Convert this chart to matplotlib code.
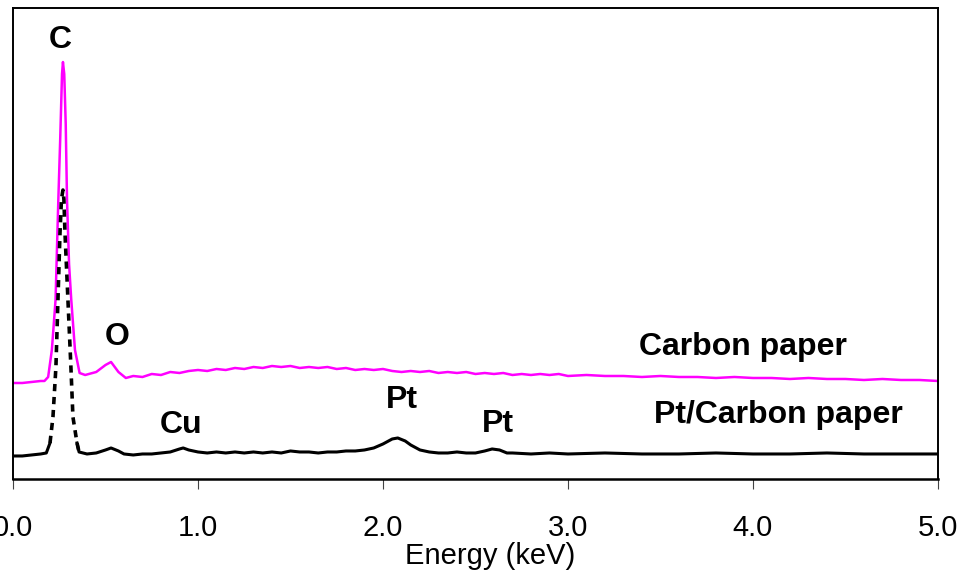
import numpy as np
import matplotlib.pyplot as plt

plt.rcParams['font.family'] = ['Liberation Sans', 'DejaVu Sans']

# Carbon paper spectrum (energy keV, counts a.u.)
cp_energy = [0.00, 0.05, 0.10, 0.15, 0.17, 0.19, 0.21, 0.23, 0.245, 0.255, 0.265, 0.27,
             0.277, 0.285, 0.292, 0.303, 0.315, 0.335, 0.36, 0.39, 0.45, 0.50, 0.53, 0.57,
             0.61, 0.65, 0.70, 0.75, 0.80, 0.85, 0.90, 0.95, 1.00, 1.05, 1.10, 1.15, 1.20,
             1.25, 1.30, 1.35, 1.40, 1.45, 1.50, 1.55, 1.60, 1.65, 1.70, 1.75, 1.80, 1.85,
             1.90, 1.95, 2.00, 2.05, 2.10, 2.15, 2.20, 2.25, 2.30, 2.35, 2.40, 2.45, 2.50,
             2.55, 2.60, 2.65, 2.70, 2.75, 2.80, 2.85, 2.90, 2.95, 3.00, 3.10, 3.20, 3.30,
             3.40, 3.50, 3.60, 3.70, 3.80, 3.90, 4.00, 4.10, 4.20, 4.30, 4.40, 4.50, 4.60,
             4.70, 4.80, 4.90, 5.00]
cp_counts = [101, 101, 102, 103, 103, 107, 134, 184, 284, 344, 410, 422,
             410, 360, 284, 220, 184, 134, 111, 109, 112, 119, 122, 112,
             106, 108, 107, 110, 109, 112, 111, 113, 114, 113, 115, 114, 116,
             115, 117, 116, 118, 117, 118, 116, 117, 116, 117, 115, 116, 114,
             115, 114, 115, 113, 112, 113, 112, 113, 111, 112, 111, 112, 110,
             111, 110, 111, 109, 110, 109, 110, 109, 110, 108, 109, 108, 108,
             107, 108, 107, 107, 106, 107, 106, 106, 105, 106, 105, 105, 104,
             105, 104, 104, 103]

# Pt/Carbon paper spectrum
pt_energy = [0.00, 0.05, 0.10, 0.15, 0.18, 0.20, 0.216, 0.232, 0.243, 0.254, 0.262, 0.27,
             0.275, 0.281, 0.297, 0.313, 0.324, 0.346, 0.357, 0.40, 0.45, 0.50, 0.53, 0.57,
             0.60, 0.65, 0.70, 0.75, 0.80, 0.85, 0.90, 0.92, 0.95, 1.00, 1.05, 1.10, 1.15,
             1.20, 1.25, 1.30, 1.35, 1.40, 1.45, 1.50, 1.55, 1.60, 1.65, 1.70, 1.75, 1.80,
             1.85, 1.90, 1.95, 2.00, 2.05, 2.08, 2.12, 2.15, 2.20, 2.25, 2.30, 2.35, 2.40,
             2.45, 2.50, 2.55, 2.59, 2.63, 2.67, 2.70, 2.80, 2.90, 3.00, 3.20, 3.40, 3.60,
             3.80, 4.00, 4.20, 4.40, 4.60, 4.80, 5.00]
pt_counts = [28, 28, 29, 30, 31, 41, 67, 117, 184, 251, 285, 294,
             285, 251, 184, 117, 67, 41, 32, 30, 31, 34, 36, 33,
             30, 29, 30, 30, 31, 32, 35, 36, 34, 32, 31, 32, 31,
             32, 31, 32, 31, 32, 31, 33, 32, 32, 31, 32, 32, 33,
             33, 34, 36, 40, 45, 46, 43, 39, 34, 32, 31, 31, 32,
             31, 31, 33, 35, 34, 31, 31, 30, 31, 30, 31, 30, 30,
             31, 30, 30, 31, 30, 30, 30]

# peak labels
peak_names = ['C', 'O', 'Cu', 'Pt', 'Pt']
peak_x = [0.254, 0.562, 0.908, 2.10, 2.62]
peak_y = [444, 147, 59, 84, 60]

fig = plt.figure(figsize=(9.63, 5.75), dpi=100)
ax = fig.add_axes([0.0135, 0.167, 0.9605, 0.819])

ax.plot(cp_energy, cp_counts, color='#ff00ff', lw=1.8)

pt_e = np.array(pt_energy)
pt_c = np.array(pt_counts)
solid_lo = pt_e <= 0.20
solid_hi = pt_e >= 0.346
dash = (pt_e >= 0.20) & (pt_e <= 0.357)
ax.plot(pt_e[solid_lo], pt_c[solid_lo], color='black', lw=2.2)
ax.plot(pt_e[solid_hi], pt_c[solid_hi], color='black', lw=2.2)
ax.plot(pt_e[dash], pt_c[dash], color='black', lw=2.6, ls=(0, (2, 1.6)))

for name, x, y in zip(peak_names, peak_x, peak_y):
    ax.text(x, y, name, fontsize=23, fontweight='bold', ha='center', va='center')

ax.text(3.946, 137, 'Carbon paper', fontsize=23, fontweight='bold', ha='center', va='center')
ax.text(4.135, 69, 'Pt/Carbon paper', fontsize=23, fontweight='bold', ha='center', va='center')

ax.set_xlim(0, 5)
ax.set_ylim(5, 476)
ax.set_xticks([0, 1, 2, 3, 4, 5])
ax.set_xticklabels(['0.0', '1.0', '2.0', '3.0', '4.0', '5.0'])
ax.set_yticks([])
ax.tick_params(axis='x', direction='out', length=7.5, width=0.8, color='#444444',
               labelsize=21, pad=17.5)
for sp in ax.spines.values():
    sp.set_linewidth(1.4)
ax.spines['bottom'].set_linewidth(1.8)
ax.set_xlabel('Energy (keV)', fontsize=21)
ax.xaxis.set_label_coords(0.516, -0.134)

fig.savefig('out.png', dpi=100)
